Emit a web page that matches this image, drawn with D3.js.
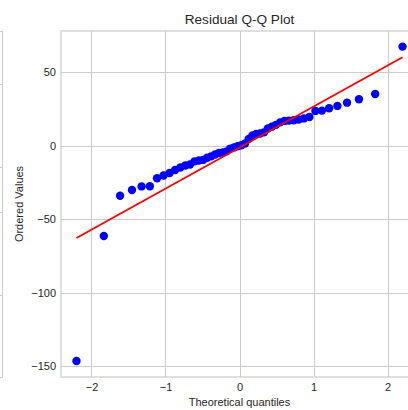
<!DOCTYPE html>
<html>
<head>
<meta charset="utf-8">
<script src="https://cdn.jsdelivr.net/npm/d3@7"></script>
<style>
  html, body { margin: 0; padding: 0; background: #fff; }
  svg { display: block; font-family: "Liberation Sans", Arial, sans-serif; }
</style>
</head>
<body>
<svg id="chart" width="408" height="410"></svg>
<script>
// Theoretical quantiles (x)
const theoreticalQuantiles = [
  -2.203, -1.833, -1.614, -1.453, -1.323, -1.211, -1.114, -1.026, -0.945, -0.870,
  -0.799, -0.732, -0.669, -0.608, -0.549, -0.492, -0.437, -0.383, -0.330, -0.277,
  -0.226, -0.175, -0.125, -0.075, -0.025, 0.025, 0.075, 0.125, 0.175, 0.226,
  0.277, 0.330, 0.383, 0.437, 0.492, 0.549, 0.608, 0.669, 0.732, 0.799,
  0.870, 0.945, 1.026, 1.114, 1.211, 1.323, 1.453, 1.614, 1.833, 2.203
];
// Ordered residual values (y)
const orderedValues = [
  -146.3, -61.4, -34.0, -30.1, -27.7, -27.6, -22.2, -20.3, -18.6, -16.5,
  -14.8, -13.5, -12.8, -10.7, -10.1, -9.7, -8.2, -7.3, -6.0, -5.0,
  -4.6, -3.9, -2.0, -1.2, -0.4, 0.3, 1.5, 4.6, 6.9, 8.0,
  8.3, 9.0, 11.7, 12.9, 14.1, 15.8, 16.8, 17.0, 17.3, 17.8,
  18.5, 19.5, 23.6, 23.8, 25.4, 27.0, 29.2, 31.5, 35.1, 67.3
];
// Fit line endpoints
const fitX = [-2.203, 2.203];
const fitY = [-62.8, 60.1];

const xTicks = [-2, -1, 0, 1, 2];
const xTickLabels = ["\u22122", "\u22121", "0", "1", "2"];
const yTicks = [50, 0, -50, -100, -150];
const yTickLabels = ["50", "0", "\u221250", "\u2212100", "\u2212150"];

const title = "Residual Q-Q Plot";
const xLabel = "Theoretical quantiles";
const yLabel = "Ordered Values";

const svg = d3.select("#chart");
const mLeft = 61, mTop = 31, mRight = 418, mBottom = 377;
const gridColor = "#cccccc", textColor = "#262626";

const x = d3.scaleLinear().domain([-2.412, 2.412]).range([mLeft, mRight]);
const y = d3.scaleLinear().domain([-157.2, 77.9]).range([mBottom, mTop]);

svg.append("rect").attr("width", 408).attr("height", 410).attr("fill", "#fff");

// remnant of neighbouring subplot on the left edge
const remnant = svg.append("g").attr("stroke", gridColor).attr("stroke-width", 1);
remnant.append("line").attr("x1", 2.5).attr("x2", 2.5).attr("y1", mTop).attr("y2", mBottom + 0.5);
[mTop, 84, 167, 212, 295, mBottom].forEach(v => {
  remnant.append("line").attr("x1", 0).attr("x2", 2.5).attr("y1", v + 0.5).attr("y2", v + 0.5);
});

svg.append("defs").append("clipPath").attr("id", "clip")
  .append("rect").attr("x", mLeft).attr("y", mTop).attr("width", mRight - mLeft).attr("height", mBottom - mTop);

// grid
const grid = svg.append("g");
grid.selectAll("line.gx").data(xTicks).join("line").attr("class", "gx")
  .attr("x1", d => Math.round(x(d)) + 0.5).attr("x2", d => Math.round(x(d)) + 0.5)
  .attr("y1", mTop).attr("y2", mBottom)
  .attr("stroke", gridColor).attr("stroke-width", 1);
grid.selectAll("line.gy").data(yTicks).join("line").attr("class", "gy")
  .attr("x1", mLeft).attr("x2", mRight)
  .attr("y1", d => Math.round(y(d)) + 0.5).attr("y2", d => Math.round(y(d)) + 0.5)
  .attr("stroke", gridColor).attr("stroke-width", 1);

// spines
svg.append("rect").attr("x", mLeft).attr("y", mTop).attr("width", mRight - mLeft).attr("height", mBottom - mTop)
  .attr("fill", "none").attr("stroke", gridColor).attr("stroke-width", 1.25);

// axes text via d3 axes
const xAxis = d3.axisBottom(x).tickValues(xTicks).tickFormat((d, i) => xTickLabels[i]).tickSize(0).tickPadding(6);
const gx = svg.append("g").attr("transform", `translate(0,${mBottom})`).call(xAxis);
gx.select(".domain").remove();
gx.selectAll("text").attr("fill", textColor).style("font-size", "11px")
  .style("font-family", "'Liberation Sans', Arial, sans-serif");

const yAxis = d3.axisLeft(y).tickValues(yTicks).tickFormat((d, i) => yTickLabels[i]).tickSize(0).tickPadding(5);
const gy = svg.append("g").attr("transform", `translate(${mLeft},0)`).call(yAxis);
gy.select(".domain").remove();
gy.selectAll("text").attr("fill", textColor).style("font-size", "11px")
  .style("font-family", "'Liberation Sans', Arial, sans-serif");

// data
const plot = svg.append("g").attr("clip-path", "url(#clip)");
const pts = theoreticalQuantiles.map((q, i) => ({ q, v: orderedValues[i] }));
plot.selectAll("circle").data(pts).join("circle")
  .attr("cx", d => x(d.q)).attr("cy", d => y(d.v)).attr("r", 4.2)
  .attr("fill", "#0000ff");

const line = d3.line().x(d => x(d[0])).y(d => y(d[1]));
plot.append("path").datum(fitX.map((v, i) => [v, fitY[i]]))
  .attr("d", line).attr("fill", "none").attr("stroke", "#ff0000").attr("stroke-width", 1.8);

// labels
svg.append("text").attr("x", (mLeft + mRight) / 2).attr("y", 24).attr("text-anchor", "middle")
  .attr("fill", textColor).style("font-size", "13.6px").text(title);
svg.append("text").attr("x", (mLeft + mRight) / 2).attr("y", 406).attr("text-anchor", "middle")
  .attr("fill", textColor).style("font-size", "11px").text(xLabel);
svg.append("text").attr("transform", `translate(23,${(mTop + mBottom) / 2}) rotate(-90)`)
  .attr("text-anchor", "middle").attr("fill", textColor).style("font-size", "11px").text(yLabel);
</script>
</body>
</html>
